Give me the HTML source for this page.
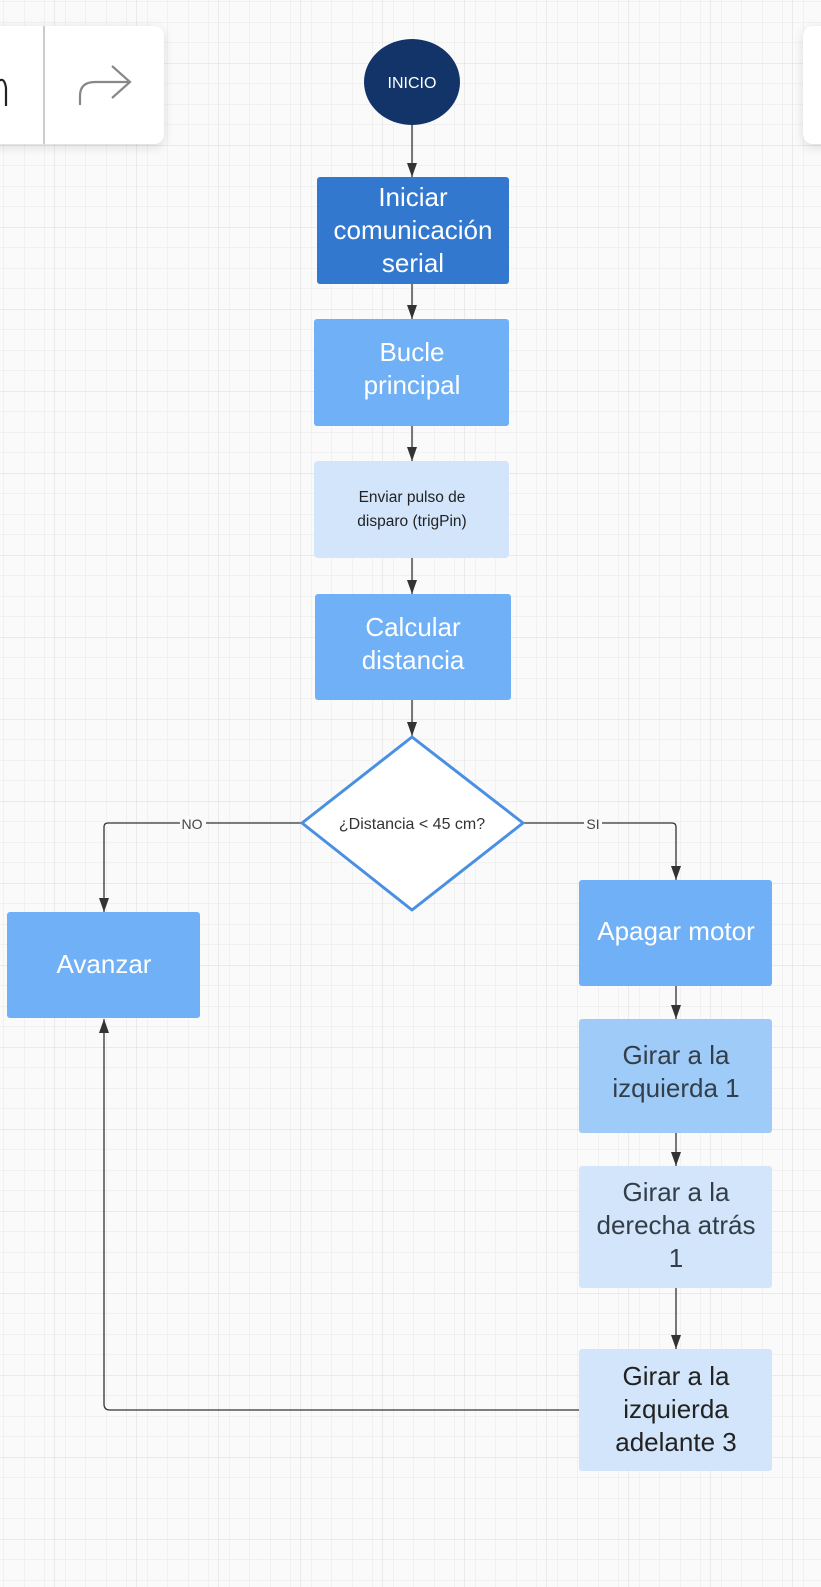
<!DOCTYPE html>
<html><head><meta charset="utf-8"><style>
html,body{margin:0;padding:0;background:#fafafa;}
svg{display:block;}
text{font-family:"Liberation Sans",Arial,sans-serif;text-anchor:middle;}
</style></head><body>
<svg width="821" height="1587" viewBox="0 0 821 1587" xmlns="http://www.w3.org/2000/svg">
<defs>
<pattern id="minor" width="20.5" height="20.5" patternUnits="userSpaceOnUse" x="4" y="2">
<path d="M20.5 0V20.5M0 20.5H20.5" stroke="#e8e8e8" stroke-width="1" fill="none"/>
</pattern>
<pattern id="major" width="82" height="82" patternUnits="userSpaceOnUse" x="54" y="63">
<path d="M0 0V82M0 0H82" stroke="#dadada" stroke-width="1" fill="none"/>
</pattern>
<marker id="ar" markerWidth="14" markerHeight="10" refX="14" refY="5" orient="auto" markerUnits="userSpaceOnUse" viewBox="0 0 14 10">
<path d="M0 0L14 5L0 10Z" fill="#333"/>
</marker>
<filter id="sh" x="-20%" y="-20%" width="140%" height="150%"><feDropShadow dx="0" dy="3" stdDeviation="5" flood-color="#000" flood-opacity="0.12"/></filter>
</defs>
<rect width="821" height="1587" fill="#fafafa"/>
<rect width="821" height="1587" fill="url(#minor)"/>
<rect width="821" height="1587" fill="url(#major)"/>

<!-- toolbar -->
<rect x="-12" y="26" width="176" height="118" rx="10" fill="#fff" filter="url(#sh)"/>
<line x1="44" y1="26" x2="44" y2="144" stroke="#ccc" stroke-width="2"/>
<path d="M-4 84 Q4 74 6 88 L6 106" stroke="#222" stroke-width="2.2" fill="none"/>
<path d="M80 105 V96 Q80 82 95 82 H130" stroke="#888" stroke-width="2.2" fill="none"/>
<path d="M112 66 L130 82 L112 98" stroke="#888" stroke-width="2.2" fill="none"/>
<rect x="803" y="26" width="40" height="118" rx="10" fill="#fff" filter="url(#sh)"/>

<!-- connectors -->
<g stroke="#333" stroke-width="1.3" fill="none">
<line x1="412" y1="125" x2="412" y2="177" marker-end="url(#ar)"/>
<line x1="412" y1="284" x2="412" y2="319" marker-end="url(#ar)"/>
<line x1="412" y1="426" x2="412" y2="461" marker-end="url(#ar)"/>
<line x1="412" y1="558" x2="412" y2="594" marker-end="url(#ar)"/>
<line x1="412" y1="700" x2="412" y2="736" marker-end="url(#ar)"/>
<path d="M301 823 H108 Q104 823 104 827 V912" marker-end="url(#ar)"/>
<path d="M524 823 H672 Q676 823 676 827 V880" marker-end="url(#ar)"/>
<line x1="676" y1="986" x2="676" y2="1019" marker-end="url(#ar)"/>
<line x1="676" y1="1133" x2="676" y2="1166" marker-end="url(#ar)"/>
<line x1="676" y1="1288" x2="676" y2="1349" marker-end="url(#ar)"/>
<path d="M579 1410 H110 Q104 1410 104 1404 V1019" marker-end="url(#ar)"/>
</g>
<rect x="180" y="815" width="26" height="16" fill="#fafafa"/>
<text x="192" y="829" font-size="14" fill="#444">NO</text>
<rect x="584" y="815" width="18" height="16" fill="#fafafa"/>
<text x="593" y="829" font-size="14" fill="#444">SI</text>

<!-- nodes -->
<ellipse cx="412" cy="82" rx="48" ry="43" fill="#123468"/>
<text x="412" y="88" font-size="16" fill="#fff">INICIO</text>

<rect x="317" y="177" width="192" height="107" rx="3" fill="#3278cf"/>
<text font-size="26" fill="#fff"><tspan x="413" y="206">Iniciar</tspan><tspan x="413" y="239">comunicación</tspan><tspan x="413" y="272">serial</tspan></text>

<rect x="314" y="319" width="195" height="107" rx="3" fill="#6fb0f7"/>
<text font-size="26" fill="#fff"><tspan x="412" y="361">Bucle</tspan><tspan x="412" y="394">principal</tspan></text>

<rect x="314" y="461" width="195" height="97" rx="4" fill="#d2e5fb"/>
<text font-size="15.5" fill="#222"><tspan x="412" y="502">Enviar pulso de</tspan><tspan x="412" y="526">disparo (trigPin)</tspan></text>

<rect x="315" y="594" width="196" height="106" rx="3" fill="#6fb0f7"/>
<text font-size="26" fill="#fff"><tspan x="413" y="636">Calcular</tspan><tspan x="413" y="669">distancia</tspan></text>

<path d="M412 737 L523 823 L412 910 L302 823 Z" fill="#fff" stroke="#4a90e2" stroke-width="3" stroke-linejoin="round"/>
<text x="412" y="829" font-size="16" fill="#333">¿Distancia &lt; 45 cm?</text>

<rect x="7" y="912" width="193" height="106" rx="3" fill="#6fb0f7"/>
<text x="104" y="973" font-size="26" fill="#fff">Avanzar</text>

<rect x="579" y="880" width="193" height="106" rx="3" fill="#6fb0f7"/>
<text x="676" y="940" font-size="26" fill="#fff">Apagar motor</text>

<rect x="579" y="1019" width="193" height="114" rx="3" fill="#9fcbf9"/>
<text font-size="26" fill="#333e48"><tspan x="676" y="1064">Girar a la</tspan><tspan x="676" y="1097">izquierda 1</tspan></text>

<rect x="579" y="1166" width="193" height="122" rx="3" fill="#d2e5fb"/>
<text font-size="26" fill="#333e48"><tspan x="676" y="1201">Girar a la</tspan><tspan x="676" y="1234">derecha atrás</tspan><tspan x="676" y="1267">1</tspan></text>

<rect x="579" y="1349" width="193" height="122" rx="3" fill="#d2e5fb"/>
<text font-size="26" fill="#222"><tspan x="676" y="1385">Girar a la</tspan><tspan x="676" y="1418">izquierda</tspan><tspan x="676" y="1451">adelante 3</tspan></text>
</svg>
</body></html>
